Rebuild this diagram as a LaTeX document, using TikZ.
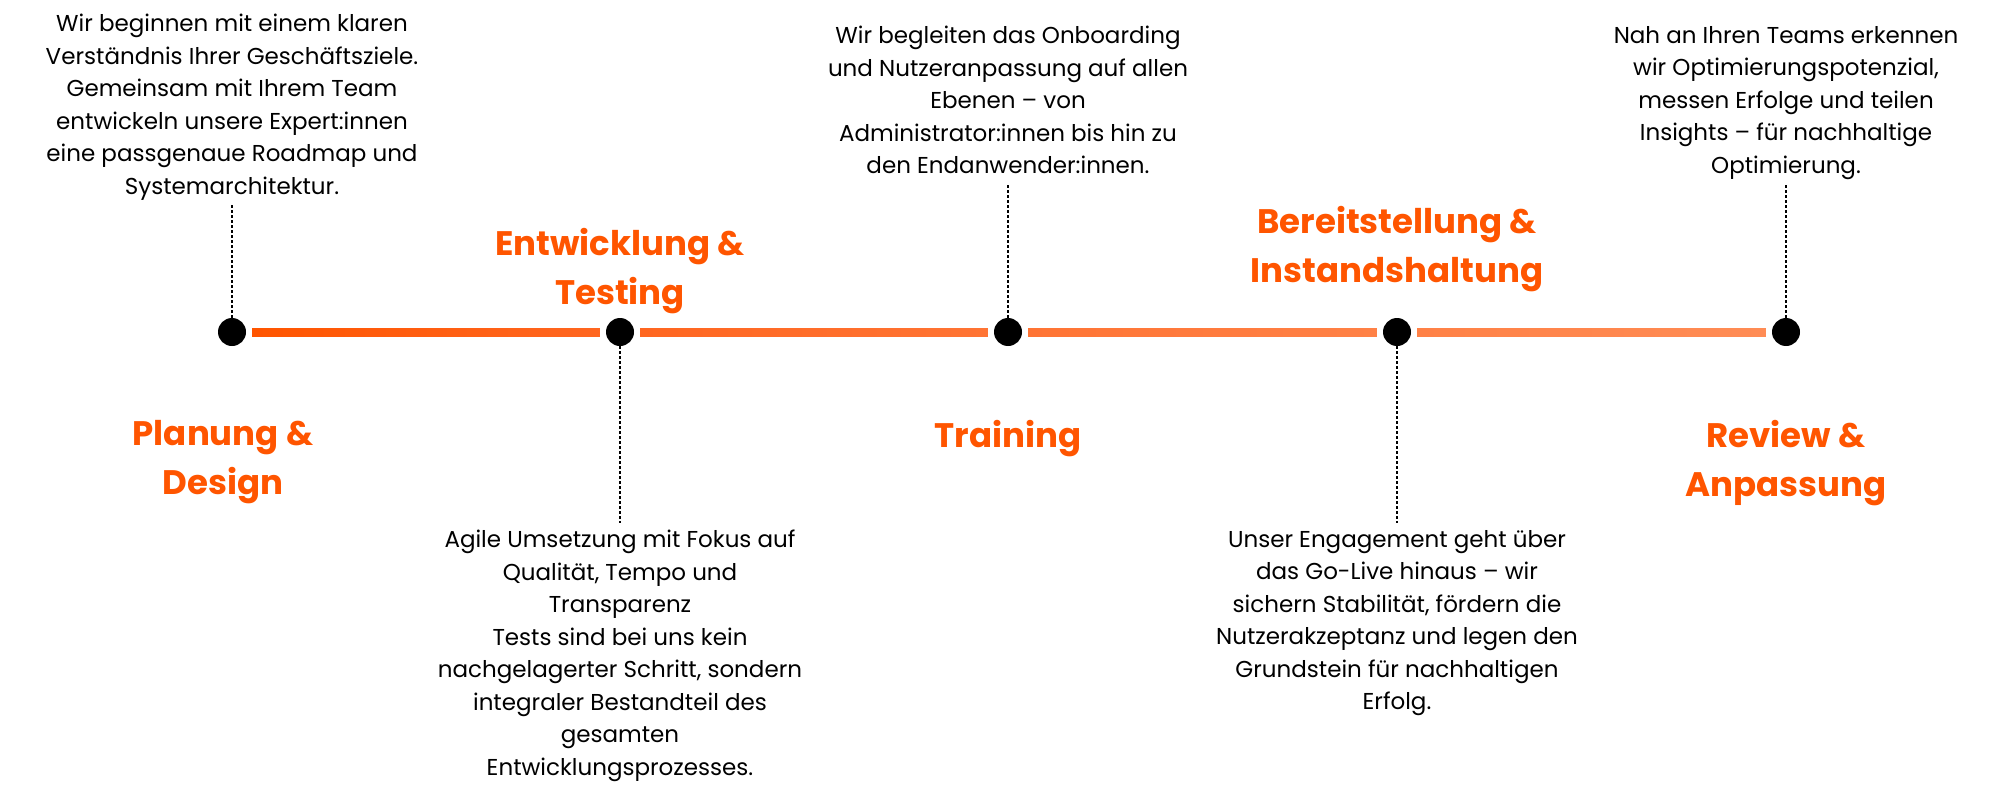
\documentclass[tikz,border=0pt]{standalone}
\usepackage{fontspec}
\setmainfont{Poppins}
\begin{document}
\begin{tikzpicture}[x=1pt,y=-1pt,
  body/.style={font=\fontsize{23}{32.5}\selectfont, align=center, anchor=north, inner sep=0pt},
  ttl/.style={font=\fontsize{34}{49}\selectfont\bfseries, text=accent, align=center, anchor=north, inner sep=0pt},
  dotn/.style={circle, fill=black, minimum size=28pt, inner sep=0pt},
  conn/.style={draw=black, line width=2.2pt, dash pattern=on 2.5pt off 2.5pt},
  seg/.style={line width=8pt}]
\definecolor{accent}{HTML}{FF5500}
\definecolor{c0}{HTML}{FF5500}
\definecolor{c1}{HTML}{FF6620}
\definecolor{c2}{HTML}{FF7434}
\definecolor{c3}{HTML}{FF8146}
\definecolor{c4}{HTML}{FF8C55}
\useasboundingbox (0,0) rectangle (2000,800);
\node[dotn] (d1) at (232,332) {};
\node[dotn] (d2) at (620,332) {};
\node[dotn] (d3) at (1008,332) {};
\node[dotn] (d4) at (1397,332) {};
\node[dotn] (d5) at (1786,332) {};
\shade[left color=c0,right color=c1] ([xshift=6pt,yshift=4pt]d1.east) rectangle ([xshift=-6pt,yshift=-4pt]d2.west);
\shade[left color=c1,right color=c2] ([xshift=6pt,yshift=4pt]d2.east) rectangle ([xshift=-6pt,yshift=-4pt]d3.west);
\shade[left color=c2,right color=c3] ([xshift=6pt,yshift=4pt]d3.east) rectangle ([xshift=-6pt,yshift=-4pt]d4.west);
\shade[left color=c3,right color=c4] ([xshift=6pt,yshift=4pt]d4.east) rectangle ([xshift=-6pt,yshift=-4pt]d5.west);
\node[body] (t1) at (232,14) {Wir beginnen mit einem klaren\\Verständnis Ihrer Geschäftsziele.\\Gemeinsam mit Ihrem Team\\entwickeln unsere Expert:innen\\eine passgenaue Roadmap und\\Systemarchitektur.};
\node[body] (t3) at (1008,26) {Wir begleiten das Onboarding\\und Nutzeranpassung auf allen\\Ebenen – von\\Administrator:innen bis hin zu\\den Endanwender:innen.};
\node[body] (t5) at (1786,26) {Nah an Ihren Teams erkennen\\wir Optimierungspotenzial,\\messen Erfolge und teilen\\Insights – für nachhaltige\\Optimierung.};
\node[body] (t2) at (620,530) {Agile Umsetzung mit Fokus auf\\Qualität, Tempo und\\Transparenz\\Tests sind bei uns kein\\nachgelagerter Schritt, sondern\\integraler Bestandteil des\\gesamten\\Entwicklungsprozesses.};
\node[body] (t4) at (1397,530) {Unser Engagement geht über\\das Go-Live hinaus – wir\\sichern Stabilität, fördern die\\Nutzerakzeptanz und legen den\\Grundstein für nachhaltigen\\Erfolg.};
\coordinate (e1) at (232,204);
\coordinate (e3) at (1008,184);
\coordinate (e5) at (1786,184);
\coordinate (e2) at (620,523);
\coordinate (e4) at (1397,523);
\draw[conn] (d1) -- (e1);
\draw[conn] (d3) -- (e3);
\draw[conn] (d5) -- (e5);
\draw[conn] (d2) -- (e2);
\draw[conn] (d4) -- (e4);
\node[ttl] (h1) at (223,420) {Planung \&\\Design};
\node[ttl] (h2) at (620,228) {Entwicklung \&\\Testing};
\node[ttl] (h3) at (1008,420) {Training};
\node[ttl] (h4) at (1397,206) {Bereitstellung \&\\Instandshaltung};
\node[ttl] (h5) at (1786,420) {Review \&\\Anpassung};
\end{tikzpicture}
\end{document}
